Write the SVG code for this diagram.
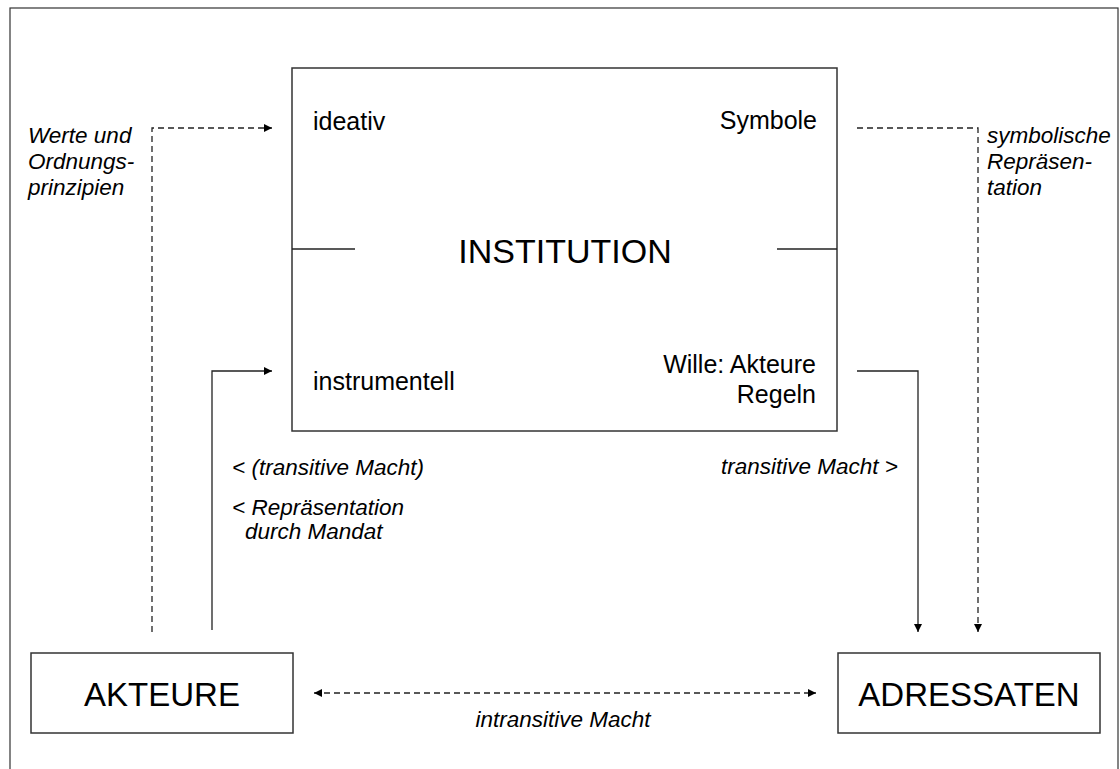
<svg xmlns="http://www.w3.org/2000/svg" width="1120" height="769" viewBox="0 0 1120 769">
<style>
.box{fill:#fff;stroke:#333;stroke-width:1.5}
.ln{fill:none;stroke:#222;stroke-width:1.3}
.dash{fill:none;stroke:#222;stroke-width:1.3;stroke-dasharray:6 4}
.t{font-family:"Liberation Sans",Arial,sans-serif;fill:#000}
.it{font-family:"Liberation Sans",Arial,sans-serif;font-style:italic;font-size:22.5px;fill:#000}
</style>
<defs>
<marker id="ah" viewBox="0 0 10 10" refX="10" refY="5" markerWidth="8" markerHeight="8" markerUnits="userSpaceOnUse" orient="auto-start-reverse">
<path d="M0,0 L10,5 L0,10 z" fill="#000"/>
</marker>
</defs>
<rect x="0" y="0" width="1120" height="769" fill="#fff"/>
<rect x="10" y="8" width="1108" height="780" fill="none" stroke="#333" stroke-width="1.2"/>

<g id="institution">
<rect class="box" x="292" y="68" width="545" height="363"/>
<line class="ln" x1="292" y1="249" x2="355" y2="249"/>
<line class="ln" x1="777" y1="249" x2="837" y2="249"/>
<text class="t" x="565" y="263" font-size="34" text-anchor="middle">INSTITUTION</text>
<text class="t" x="313" y="130" font-size="25">ideativ</text>
<text class="t" x="817" y="129" font-size="25" text-anchor="end">Symbole</text>
<text class="t" x="313" y="390" font-size="25">instrumentell</text>
<text class="t" x="816" y="373" font-size="25" text-anchor="end">Wille: Akteure</text>
<text class="t" x="816" y="403" font-size="25" text-anchor="end">Regeln</text>
</g>

<g id="akteure">
<rect class="box" x="31" y="653" width="262" height="80"/>
<text class="t" x="162" y="706" font-size="33" text-anchor="middle">AKTEURE</text>
</g>

<g id="adressaten">
<rect class="box" x="838" y="653" width="262" height="80"/>
<text class="t" x="969" y="706" font-size="33" text-anchor="middle">ADRESSATEN</text>
</g>

<g id="connectors">
<polyline class="dash" points="152,632 152,128 272,128" marker-end="url(#ah)"/>
<polyline class="ln" points="212,630 212,371 272,371" marker-end="url(#ah)"/>
<polyline class="dash" points="857,128 978,128 978,632" marker-end="url(#ah)"/>
<polyline class="ln" points="857,371 918,371 918,632" marker-end="url(#ah)"/>
<line class="dash" x1="314" y1="693" x2="816" y2="693" marker-start="url(#ah)" marker-end="url(#ah)"/>
</g>

<g id="labels">
<text class="it" x="28" y="143">Werte und</text>
<text class="it" x="28" y="169">Ordnungs-</text>
<text class="it" x="28" y="195">prinzipien</text>
<text class="it" x="987" y="143">symbolische</text>
<text class="it" x="987" y="169">Repräsen-</text>
<text class="it" x="987" y="195">tation</text>
<text class="it" x="232" y="475">&lt; (transitive Macht)</text>
<text class="it" x="232" y="515">&lt; Repräsentation</text>
<text class="it" x="245" y="539">durch Mandat</text>
<text class="it" x="898" y="474" text-anchor="end">transitive Macht &gt;</text>
<text class="it" x="563" y="727" text-anchor="middle">intransitive Macht</text>
</g>
</svg>
